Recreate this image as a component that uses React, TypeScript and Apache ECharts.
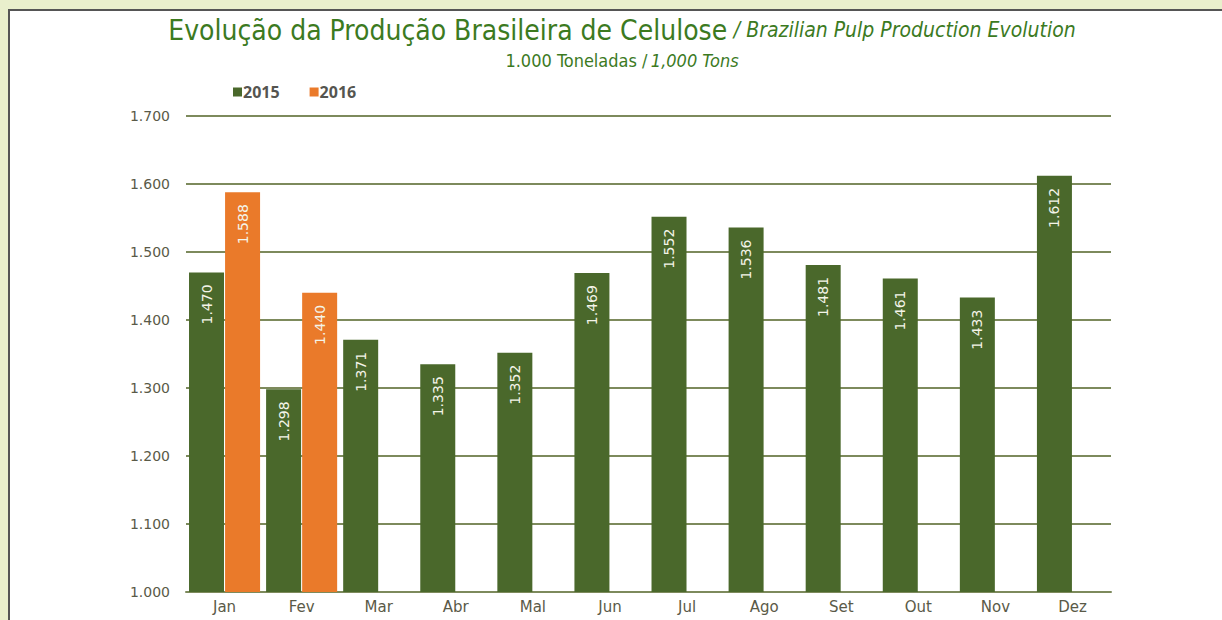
import React, { useEffect, useRef } from "react";
import * as echarts from "echarts";

const months = ["Jan", "Fev", "Mar", "Abr", "Mal", "Jun", "Jul", "Ago", "Set", "Out", "Nov", "Dez"];
const values2015 = [1470, 1298, 1371, 1335, 1352, 1469, 1552, 1536, 1481, 1461, 1433, 1612];
const values2016 = [1588, 1440, null, null, null, null, null, null, null, null, null, null];
const seriesNames = ["2015", "2016"];
const yTicks = { min: 1000, max: 1700, interval: 100 };

const GREEN = "#4a682b";
const ORANGE = "#ea7a2a";
const TITLE_GREEN = "#3c7a1f";
const AXIS_TEXT = "#5a5a48";
const GRID_LINE = "#7d8a5c";
const COND = "DejaVu Sans Condensed";

const fmt = (v: number) => {
  const s = String(Math.round(v));
  return s.length > 3 ? s.slice(0, s.length - 3) + "." + s.slice(s.length - 3) : s;
};

export default function App() {
  const ref = useRef<HTMLDivElement>(null);
  useEffect(() => {
    if (!ref.current) return;
    const chart = echarts.init(ref.current, undefined, { renderer: "svg" });
    const barLabel = {
      show: true,
      position: "insideTop",
      rotate: 90,
      align: "right",
      verticalAlign: "middle",
      distance: 12,
      color: "#f4f4e8",
      fontFamily: "DejaVu Sans",
      fontSize: 14,
      formatter: (p: any) => fmt(p.value),
    };
    chart.setOption({
      animation: false,
      backgroundColor: "transparent",
      graphic: [
        {
          type: "text",
          x: 622,
          y: 16,
          style: {
            text: "{a|Evolução da Produção Brasileira de Celulose}  {b|/ Brazilian Pulp Production Evolution}",
            align: "center",
            rich: {
              a: { fontFamily: COND, fontSize: 28, fill: TITLE_GREEN },
              b: { fontFamily: COND, fontSize: 21, fontStyle: "italic", fill: TITLE_GREEN },
            },
          },
        },
        {
          type: "text",
          x: 622,
          y: 51,
          style: {
            text: "{c|1.000 Toneladas /} {d|1,000 Tons}",
            align: "center",
            rich: {
              c: { fontFamily: COND, fontSize: 18, fill: TITLE_GREEN },
              d: { fontFamily: COND, fontSize: 18, fontStyle: "italic", fill: TITLE_GREEN },
            },
          },
        },
      ],
      legend: {
        left: 228,
        top: 79,
        itemWidth: 9,
        itemHeight: 9,
        itemGap: 30,
        icon: "rect",
        textStyle: { fontFamily: "Open Sans", fontWeight: "bold", fontSize: 16, color: "#555550", padding: [0, 0, 0, -4] },
        data: seriesNames,
      },
      grid: { left: 186, right: 111, top: 116, bottom: 28, containLabel: false },
      xAxis: {
        type: "category",
        data: months,
        axisLine: { show: true, lineStyle: { color: GRID_LINE, width: 2 } },
        axisTick: { show: false },
        axisLabel: { color: AXIS_TEXT, fontFamily: "DejaVu Sans", fontSize: 15, margin: 7 },
      },
      yAxis: {
        type: "value",
        min: yTicks.min,
        max: yTicks.max,
        interval: yTicks.interval,
        axisLine: { show: false },
        axisTick: { show: false },
        splitLine: { lineStyle: { color: GRID_LINE, width: 2 } },
        axisLabel: { color: AXIS_TEXT, fontFamily: "DejaVu Sans", fontSize: 14, margin: 16, formatter: (v: number) => fmt(v) },
      },
      series: [
        {
          name: seriesNames[0],
          type: "bar",
          data: values2015,
          barWidth: 35,
          barGap: "3%",
          itemStyle: { color: GREEN },
          label: barLabel,
        },
        {
          name: seriesNames[1],
          type: "bar",
          data: values2016,
          barWidth: 35,
          itemStyle: { color: ORANGE },
          label: barLabel,
        },
      ],
    });
    return () => chart.dispose();
  }, []);
  return (
    <div style={{ position: "fixed", left: 0, top: 0, width: 1222, height: 620, background: "#e9efcc" }}>
      <div
        style={{
          position: "absolute",
          left: 8,
          top: 9,
          width: 1214,
          height: 611,
          background: "#ffffff",
          borderLeft: "2px solid #555555",
          borderTop: "2px solid #555555",
          boxSizing: "border-box",
        }}
      />
      <div ref={ref} style={{ position: "absolute", left: 0, top: 0, width: 1222, height: 620 }} />
    </div>
  );
}
